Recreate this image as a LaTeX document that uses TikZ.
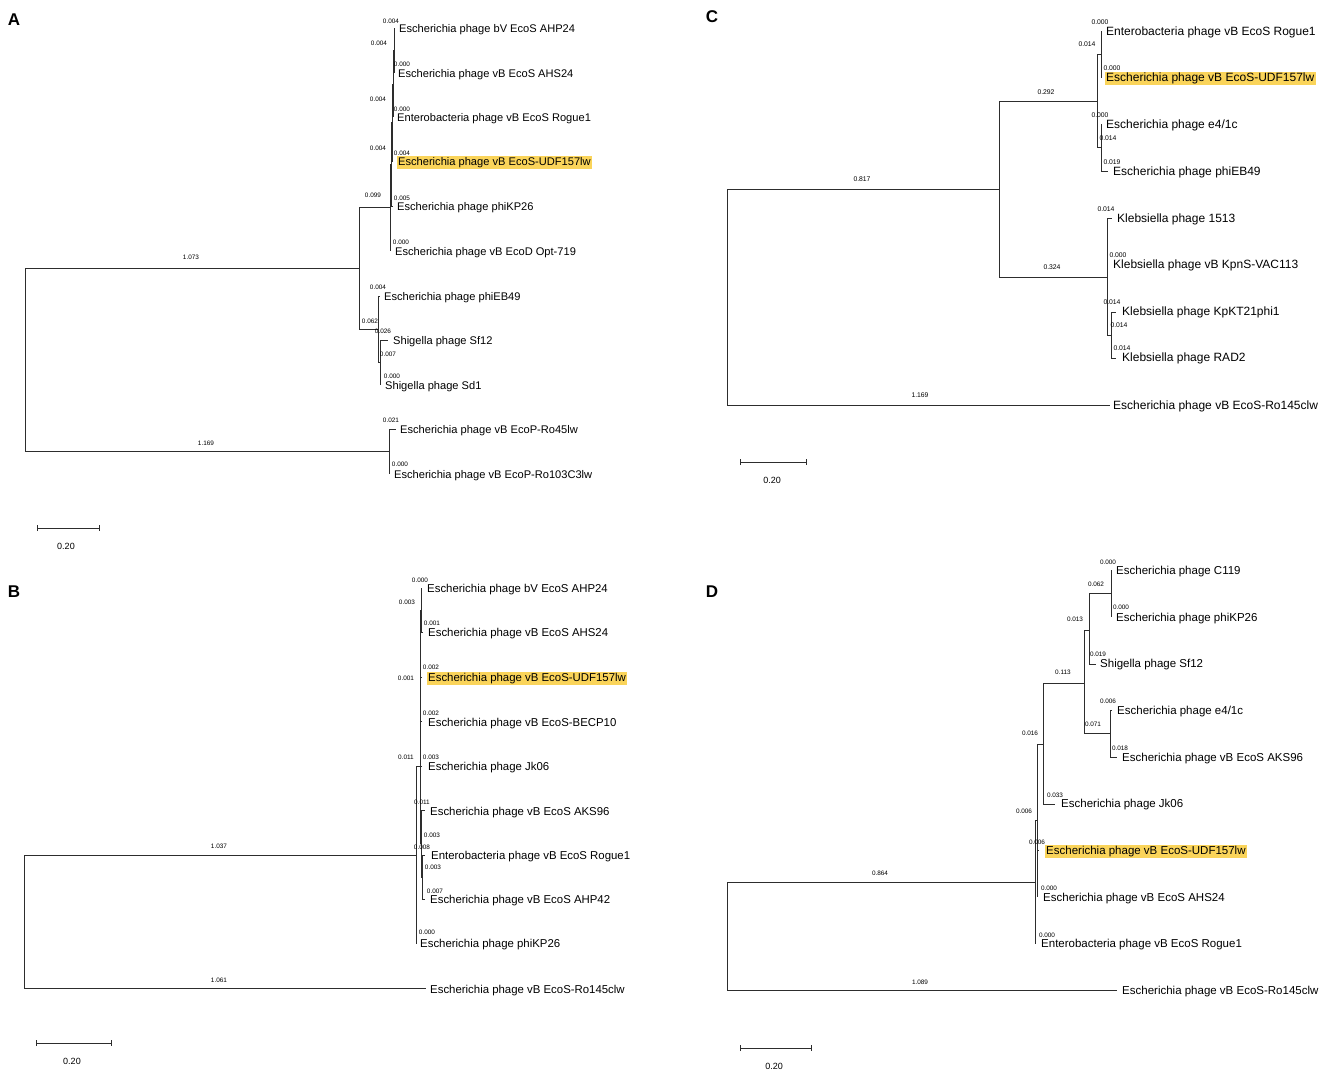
\documentclass[tikz,border=0pt]{standalone}
\usepackage{fontspec}
\setmainfont{Liberation Sans}
\usetikzlibrary{arrows.meta}
\definecolor{udfyellow}{RGB}{250,212,90}
\definecolor{treeline}{RGB}{45,45,45}
\tikzset{
  br/.style={draw=treeline, line width=1pt},
  taxon/.style={anchor=west, inner sep=0pt, yshift=-1.5pt, font=\fontsize{#1}{#1}\selectfont},
  ours/.style={fill=udfyellow, inner xsep=1.5pt, inner ysep=1pt},
  blen/.style={inner sep=0pt, font=\fontsize{#1}{#1}\selectfont},
  blen/.default=6.4,
  panel/.style={font=\fontsize{17}{17}\selectfont\bfseries},
  sbar/.style={draw=treeline, line width=1pt, {Bar[width=6pt]}-{Bar[width=6pt]}},
  sbtext/.style={font=\fontsize{9}{9}\selectfont}
}
\begin{document}
\begin{tikzpicture}[x=1pt, y=-1pt]
\useasboundingbox (0,0) rectangle (1325,1074);

\node[panel] (pA) at (14,20) {A};
\node[panel] (pB) at (14,592) {B};
\node[panel] (pC) at (712,17) {C};
\node[panel] (pD) at (712,592) {D};

% A
\coordinate (rA) at (25,360);
\coordinate (A1) at (359,268.5);
\coordinate (A2) at (389,451.5);
\coordinate (A3) at (390,207.5);
\coordinate (A4) at (391,164);
\coordinate (A5) at (392,122.5);
\coordinate (A6) at (393,84);
\coordinate (A7) at (394,50.5);
\coordinate (A8) at (378,329.5);
\coordinate (A9) at (380,362.5);
\coordinate (tA1) at (395,28);
\coordinate (tA2) at (394,73);
\coordinate (tA3) at (393,117);
\coordinate (tA4) at (393,161);
\coordinate (tA5) at (392.5,206);
\coordinate (tA6) at (390,251);
\coordinate (tA7) at (379.5,296);
\coordinate (tA8) at (388,340);
\coordinate (tA9) at (380,385);
\coordinate (tA10) at (395.5,429);
\coordinate (tA11) at (389,474);

\draw[br] (rA) |- (A1);
\draw[br] (rA) |- (A2);
\draw[br] (A1) |- (A3);
\draw[br] (A1) |- (A8);
\draw[br] (A3) |- (A4);
\draw[br] (A3) |- (tA6);
\draw[br] (A4) |- (A5);
\draw[br] (A4) |- (tA5);
\draw[br] (A5) |- (A6);
\draw[br] (A5) |- (tA4);
\draw[br] (A6) |- (A7);
\draw[br] (A6) |- (tA3);
\draw[br] (A7) |- (tA1);
\draw[br] (A7) |- (tA2);
\draw[br] (A8) |- (tA7);
\draw[br] (A8) |- (A9);
\draw[br] (A9) |- (tA8);
\draw[br] (A9) |- (tA9);
\draw[br] (A2) |- (tA10);
\draw[br] (A2) |- (tA11);

\node[taxon=11.1] (xA1) at (399,28) {Escherichia phage bV EcoS AHP24};
\node[taxon=11.1] (xA2) at (398,73) {Escherichia phage vB EcoS AHS24};
\node[taxon=11.1] (xA3) at (397,117) {Enterobacteria phage vB EcoS Rogue1};
\node[taxon=11.1, ours] (xA4) at (396.5,161) {Escherichia phage vB EcoS-UDF157lw};
\node[taxon=11.1] (xA5) at (397,206) {Escherichia phage phiKP26};
\node[taxon=11.1] (xA6) at (395,251) {Escherichia phage vB EcoD Opt-719};
\node[taxon=11.1] (xA7) at (384,296) {Escherichia phage phiEB49};
\node[taxon=11.1] (xA8) at (393,340) {Shigella phage Sf12};
\node[taxon=11.1] (xA9) at (385,385) {Shigella phage Sd1};
\node[taxon=11.1] (xA10) at (400,429) {Escherichia phage vB EcoP-Ro45lw};
\node[taxon=11.1] (xA11) at (394,474) {Escherichia phage vB EcoP-Ro103C3lw};

\node[blen] at (191,257) {1.073};
\node[blen] at (206,443) {1.169};
\node[blen] at (373,195) {0.099};
\node[blen] at (370,321) {0.062};
\node[blen] at (383,331) {0.026};
\node[blen] at (388,354) {0.007};
\node[blen] at (379,43) {0.004};
\node[blen] at (378,99) {0.004};
\node[blen] at (378,148) {0.004};
\node[blen] at (391,21) {0.004};
\node[blen] at (402,64) {0.000};
\node[blen] at (402,109) {0.000};
\node[blen] at (402,153) {0.004};
\node[blen] at (402,198) {0.005};
\node[blen] at (401,242) {0.000};
\node[blen] at (378,287) {0.004};
\node[blen] at (392,376) {0.000};
\node[blen] at (391,420) {0.021};
\node[blen] at (400,464) {0.000};

\coordinate (sA1) at (37,528);
\coordinate (sA2) at (100,528);
\draw[sbar] (sA1) -- (sA2);
\node[sbtext] (sAt) at (66,546) {0.20};

% B
\coordinate (rB) at (24,922);
\coordinate (B1) at (416,855);
\coordinate (B2) at (420,766);
\coordinate (B3) at (420.5,688);
\coordinate (B4) at (421.5,610);
\coordinate (B5) at (421,843.5);
\coordinate (B6) at (422,877);
\coordinate (tB1) at (421.5,588);
\coordinate (tB2) at (422,632);
\coordinate (tB3) at (421.5,677);
\coordinate (tB4) at (421.5,721);
\coordinate (tB5) at (421.5,766);
\coordinate (tB6) at (425,810);
\coordinate (tB7) at (425,855);
\coordinate (tB8) at (424.5,899);
\coordinate (tB9) at (416,944);
\coordinate (tB10) at (426,988);

\draw[br] (rB) |- (B1);
\draw[br] (rB) |- (tB10);
\draw[br] (B1) |- (B2);
\draw[br] (B1) |- (tB9);
\draw[br] (B2) |- (B3);
\draw[br] (B2) |- (B5);
\draw[br] (B3) |- (B4);
\draw[br] (B3) |- (tB3);
\draw[br] (B3) |- (tB4);
\draw[br] (B3) |- (tB5);
\draw[br] (B4) |- (tB1);
\draw[br] (B4) |- (tB2);
\draw[br] (B5) |- (tB6);
\draw[br] (B5) |- (B6);
\draw[br] (B6) |- (tB7);
\draw[br] (B6) |- (tB8);

\node[taxon=11.4] (xB1) at (427,588) {Escherichia phage bV EcoS AHP24};
\node[taxon=11.4] (xB2) at (428,632) {Escherichia phage vB EcoS AHS24};
\node[taxon=11.4, ours] (xB3) at (426.5,677) {Escherichia phage vB EcoS-UDF157lw};
\node[taxon=11.4] (xB4) at (428,722) {Escherichia phage vB EcoS-BECP10};
\node[taxon=11.4] (xB5) at (428,766) {Escherichia phage Jk06};
\node[taxon=11.4] (xB6) at (430,811) {Escherichia phage vB EcoS AKS96};
\node[taxon=11.4] (xB7) at (431,855) {Enterobacteria phage vB EcoS Rogue1};
\node[taxon=11.4] (xB8) at (430,899) {Escherichia phage vB EcoS AHP42};
\node[taxon=11.4] (xB9) at (420,943) {Escherichia phage phiKP26};
\node[taxon=11.4] (xB10) at (430,989) {Escherichia phage vB EcoS-Ro145clw};

\node[blen] at (219,846) {1.037};
\node[blen] at (219,980) {1.061};
\node[blen] at (420,580) {0.000};
\node[blen] at (407,602) {0.003};
\node[blen] at (432,623) {0.001};
\node[blen] at (431,667) {0.002};
\node[blen] at (406,678) {0.001};
\node[blen] at (431,713) {0.002};
\node[blen] at (406,757) {0.011};
\node[blen] at (431,757) {0.003};
\node[blen] at (422,802) {0.011};
\node[blen] at (432,835) {0.003};
\node[blen] at (422,847) {0.008};
\node[blen] at (433,867) {0.003};
\node[blen] at (435,891) {0.007};
\node[blen] at (427,932) {0.000};

\coordinate (sB1) at (36,1043);
\coordinate (sB2) at (112,1043);
\draw[sbar] (sB1) -- (sB2);
\node[sbtext] (sBt) at (72,1061) {0.20};

% C
\coordinate (rC) at (727,297);
\coordinate (C1) at (999,189.5);
\coordinate (C2) at (1097,101.5);
\coordinate (C3) at (1101.5,54.5);
\coordinate (C4) at (1101.5,147.5);
\coordinate (C5) at (1107.5,277);
\coordinate (C6) at (1111.5,335);
\coordinate (tC1) at (1101.5,31);
\coordinate (tC2) at (1101.5,78);
\coordinate (tC3) at (1101.5,124);
\coordinate (tC4) at (1108,171);
\coordinate (tC5) at (1112,218);
\coordinate (tC6) at (1107.5,264);
\coordinate (tC7) at (1116,312);
\coordinate (tC8) at (1116,358);
\coordinate (tC9) at (1110,405);

\draw[br] (rC) |- (C1);
\draw[br] (rC) |- (tC9);
\draw[br] (C1) |- (C2);
\draw[br] (C1) |- (C5);
\draw[br] (C2) |- (C3);
\draw[br] (C2) |- (C4);
\draw[br] (C3) |- (tC1);
\draw[br] (C3) |- (tC2);
\draw[br] (C4) |- (tC3);
\draw[br] (C4) |- (tC4);
\draw[br] (C5) |- (tC5);
\draw[br] (C5) |- (tC6);
\draw[br] (C5) |- (C6);
\draw[br] (C6) |- (tC7);
\draw[br] (C6) |- (tC8);

\node[taxon=12] (xC1) at (1106,31) {Enterobacteria phage vB EcoS Rogue1};
\node[taxon=12, ours] (xC2) at (1104.5,77) {Escherichia phage vB EcoS-UDF157lw};
\node[taxon=12] (xC3) at (1106,124) {Escherichia phage e4/1c};
\node[taxon=12] (xC4) at (1113,171) {Escherichia phage phiEB49};
\node[taxon=12] (xC5) at (1117,218) {Klebsiella phage 1513};
\node[taxon=12] (xC6) at (1113,264) {Klebsiella phage vB KpnS-VAC113};
\node[taxon=12] (xC7) at (1122,311) {Klebsiella phage KpKT21phi1};
\node[taxon=12] (xC8) at (1122,357) {Klebsiella phage RAD2};
\node[taxon=12] (xC9) at (1113,405) {Escherichia phage vB EcoS-Ro145clw};

\node[blen=6.8] at (862,179) {0.817};
\node[blen=6.8] at (920,395) {1.169};
\node[blen=6.8] at (1046,92) {0.292};
\node[blen=6.8] at (1052,267) {0.324};
\node[blen=6.8] at (1100,22) {0.000};
\node[blen=6.8] at (1087,44) {0.014};
\node[blen=6.8] at (1112,68) {0.000};
\node[blen=6.8] at (1100,115) {0.000};
\node[blen=6.8] at (1108,138) {0.014};
\node[blen=6.8] at (1112,162) {0.019};
\node[blen=6.8] at (1106,209) {0.014};
\node[blen=6.8] at (1118,255) {0.000};
\node[blen=6.8] at (1112,302) {0.014};
\node[blen=6.8] at (1119,325) {0.014};
\node[blen=6.8] at (1122,348) {0.014};

\coordinate (sC1) at (740,462);
\coordinate (sC2) at (807,462);
\draw[sbar] (sC1) -- (sC2);
\node[sbtext] (sCt) at (772,480) {0.20};

% D
\coordinate (rD) at (727,936);
\coordinate (D1) at (1035,882.5);
\coordinate (D2) at (1037,820.5);
\coordinate (D3) at (1043,744);
\coordinate (D4) at (1084,683);
\coordinate (D5) at (1089,630);
\coordinate (D6) at (1110,733.5);
\coordinate (D7) at (1111,593.5);
\coordinate (tD1) at (1111,570);
\coordinate (tD2) at (1111,617);
\coordinate (tD3) at (1096,664);
\coordinate (tD4) at (1112,710);
\coordinate (tD5) at (1116.5,757);
\coordinate (tD6) at (1055,804);
\coordinate (tD7) at (1039,850);
\coordinate (tD8) at (1037,897);
\coordinate (tD9) at (1035,944);
\coordinate (tD10) at (1117,990);

\draw[br] (rD) |- (D1);
\draw[br] (rD) |- (tD10);
\draw[br] (D1) |- (D2);
\draw[br] (D1) |- (tD9);
\draw[br] (D2) |- (D3);
\draw[br] (D2) |- (tD7);
\draw[br] (D2) |- (tD8);
\draw[br] (D3) |- (D4);
\draw[br] (D3) |- (tD6);
\draw[br] (D4) |- (D5);
\draw[br] (D4) |- (D6);
\draw[br] (D5) |- (D7);
\draw[br] (D5) |- (tD3);
\draw[br] (D7) |- (tD1);
\draw[br] (D7) |- (tD2);
\draw[br] (D6) |- (tD4);
\draw[br] (D6) |- (tD5);

\node[taxon=11.5] (xD1) at (1116,570) {Escherichia phage C119};
\node[taxon=11.5] (xD2) at (1116,617) {Escherichia phage phiKP26};
\node[taxon=11.5] (xD3) at (1100,663) {Shigella phage Sf12};
\node[taxon=11.5] (xD4) at (1117,710) {Escherichia phage e4/1c};
\node[taxon=11.5] (xD5) at (1122,757) {Escherichia phage vB EcoS AKS96};
\node[taxon=11.5] (xD6) at (1061,803) {Escherichia phage Jk06};
\node[taxon=11.5, ours] (xD7) at (1044.5,850) {Escherichia phage vB EcoS-UDF157lw};
\node[taxon=11.5] (xD8) at (1043,897) {Escherichia phage vB EcoS AHS24};
\node[taxon=11.5] (xD9) at (1041,943) {Enterobacteria phage vB EcoS Rogue1};
\node[taxon=11.5] (xD10) at (1122,990) {Escherichia phage vB EcoS-Ro145clw};

\node[blen] at (880,873) {0.864};
\node[blen] at (920,982) {1.089};
\node[blen] at (1108,562) {0.000};
\node[blen] at (1096,584) {0.062};
\node[blen] at (1121,607) {0.000};
\node[blen] at (1075,619) {0.013};
\node[blen] at (1098,654) {0.019};
\node[blen] at (1063,672) {0.113};
\node[blen] at (1108,701) {0.006};
\node[blen] at (1093,724) {0.071};
\node[blen] at (1120,748) {0.018};
\node[blen] at (1030,733) {0.016};
\node[blen] at (1055,795) {0.033};
\node[blen] at (1024,811) {0.006};
\node[blen] at (1037,842) {0.006};
\node[blen] at (1049,888) {0.000};
\node[blen] at (1047,935) {0.000};

\coordinate (sD1) at (740,1048);
\coordinate (sD2) at (812,1048);
\draw[sbar] (sD1) -- (sD2);
\node[sbtext] (sDt) at (774,1066) {0.20};

\end{tikzpicture}
\end{document}
